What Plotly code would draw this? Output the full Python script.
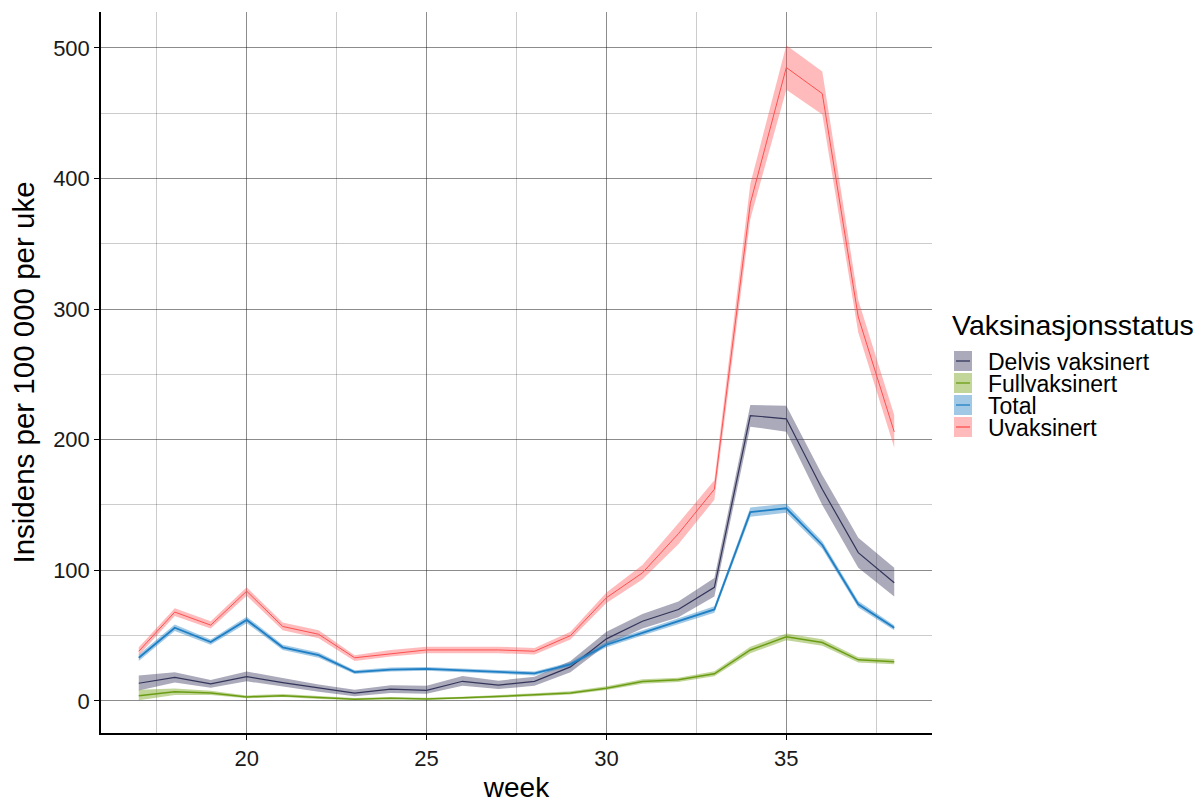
import plotly.graph_objects as go

# Weekly incidence per 100 000 by vaccination status, with confidence bands
weeks = list(range(17, 39))

status_names = ["Delvis vaksinert", "Fullvaksinert", "Total", "Uvaksinert"]

delvis = [13.5, 18, 13, 18.5, 14, 10, 6, 9, 8, 15, 12, 15, 26, 47.5, 61, 70, 87,
          218.5, 216, 162, 113.5, 90.5]
delvis_lo = [8, 14, 10, 15, 11, 7, 3.5, 6, 5.5, 11.5, 9, 11.5, 22, 43, 55.5, 64, 80,
             210, 206, 150, 102, 80]
delvis_hi = [19.5, 22, 16, 22.5, 17.5, 12.5, 8.5, 12, 11.5, 19, 15.5, 18.5, 30.5, 53,
             66.5, 76, 94, 226.5, 226, 173, 125, 102]

full = [4, 7, 6, 3, 4, 2.5, 1.3, 2, 1.5, 2.3, 3.3, 4.6, 6, 9.7, 14.8, 16.1, 20.7,
        39, 49, 44.7, 31.4, 30]
full_lo = [0.5, 4.5, 4.5, 2, 3, 1.5, 0.6, 1.2, 0.8, 1.5, 2.4, 3.5, 4.8, 8.3, 13.2,
           14.5, 18.8, 36.5, 46.5, 42.3, 29.3, 28]
full_hi = [8.5, 9.5, 7.8, 4.2, 5.2, 3.6, 2.2, 3, 2.4, 3.2, 4.3, 5.8, 7.3, 11.2, 16.5,
           17.8, 22.7, 41.5, 51.5, 47.2, 33.5, 32]

total = [33, 56, 45, 62, 41, 35, 22, 24, 24.5, 23.5, 22.5, 21, 28, 43, 52, 61, 70,
         144.5, 147.5, 119.4, 74, 56]
total_lo = [30.5, 53.5, 43, 59.5, 39, 33, 20.5, 22.5, 23, 22, 21, 19.5, 26.5, 41,
            50, 59, 67.5, 141, 144, 116.5, 71.5, 54]
total_hi = [35.5, 58.5, 47, 64.5, 43, 37, 23.5, 25.5, 26, 25, 24, 22.5, 29.5, 45,
            54, 63, 72.5, 148, 151, 122.3, 76.5, 58]

uvaks = [38, 68, 58, 84, 57, 51, 33, 36, 39, 39, 39, 38, 50, 79, 98, 128, 162,
         381, 485, 465, 294, 206]
uvaks_lo = [35, 65, 55.5, 80.5, 54, 48, 30.5, 34, 36.5, 36.5, 36.5, 35.5, 47, 75,
            93, 120, 154, 369, 468, 449, 282, 194]
uvaks_hi = [41, 71, 61, 87, 60, 54, 35, 39, 41.5, 41.5, 41.5, 40.5, 53, 83, 104,
            136, 169, 396, 502, 482, 307, 219]

series = [
    (delvis, delvis_lo, delvis_hi, "#34355A", "rgba(52,53,90,0.42)"),
    (full, full_lo, full_hi, "#6A9D14", "rgba(120,165,30,0.45)"),
    (total, total_lo, total_hi, "#1F7FC4", "rgba(31,127,196,0.42)"),
    (uvaks, uvaks_lo, uvaks_hi, "#FF5050", "rgba(255,77,77,0.38)"),
]
line_widths = [1.2, 1.5, 1.8, 1.0]

fig = go.Figure()

# Confidence ribbons first, then the lines on top
for (vals, lo, hi, lc, fc), name in zip(series, status_names):
    fig.add_trace(go.Scatter(
        x=weeks + weeks[::-1], y=hi + lo[::-1],
        fill="toself", fillcolor=fc, line=dict(width=0, color=fc),
        mode="lines", hoverinfo="skip", showlegend=False, name=name))

for (vals, lo, hi, lc, fc), name, lw in zip(series, status_names, line_widths):
    fig.add_trace(go.Scatter(
        x=weeks, y=vals, mode="lines", line=dict(color=lc, width=lw),
        name=name, showlegend=False))

FONT = "Liberation Sans, Arial, sans-serif"
W, H = 1204, 803
ML, MR, MT, MB = 101, 272, 12, 70
PW, PH = W - ML - MR, H - MT - MB

def px_x(p):
    return (p - ML) / PW

def px_y(p):
    return (H - MB - p) / PH

# Legend drawn as keys + labels to the right of the panel
shapes = []
annotations = [dict(
    x=px_x(950), y=px_y(325), xref="paper", yref="paper",
    text="Vaksinasjonsstatus", showarrow=False, xanchor="left", yanchor="middle",
    font=dict(family=FONT, size=28.5, color="black"))]
key_centers = [361, 383, 405, 427]
for (vals, lo, hi, lc, fc), name, cy in zip(series, status_names, key_centers):
    shapes.append(dict(type="rect", xref="paper", yref="paper",
                       x0=px_x(954), x1=px_x(972), y0=px_y(cy + 10), y1=px_y(cy - 10),
                       fillcolor=fc, line=dict(width=0)))
    shapes.append(dict(type="line", xref="paper", yref="paper",
                       x0=px_x(956), x1=px_x(970), y0=px_y(cy), y1=px_y(cy),
                       line=dict(color=lc, width=1.3)))
    annotations.append(dict(
        x=px_x(986), y=px_y(cy + 1), xref="paper", yref="paper", text=name,
        showarrow=False, xanchor="left", yanchor="middle",
        font=dict(family=FONT, size=23, color="black")))

fig.update_layout(
    width=W, height=H,
    margin=dict(l=ML, r=MR, t=MT, b=MB, pad=0, autoexpand=False),
    paper_bgcolor="white", plot_bgcolor="white",
    font=dict(family=FONT, color="black"),
    shapes=shapes, annotations=annotations,
    showlegend=False,
)

fig.update_xaxes(
    range=[15.95, 39.05], tick0=0, dtick=5, automargin=False,
    showgrid=True, gridcolor="rgba(0,0,0,0.45)", gridwidth=1,
    minor=dict(dtick=2.5, tick0=0, showgrid=True, gridcolor="rgba(0,0,0,0.2)", gridwidth=1),
    zeroline=False, showline=True, linecolor="black", linewidth=1.5,
    ticks="outside", ticklen=5, tickcolor="black", tickwidth=1,
    tickfont=dict(family=FONT, size=22, color="#1a1a1a"),
    title=dict(text="week", font=dict(family=FONT, size=28, color="black"), standoff=14),
)
fig.update_yaxes(
    range=[-24.6, 527.5], tick0=0, dtick=100, automargin=False,
    showgrid=True, gridcolor="rgba(0,0,0,0.45)", gridwidth=1,
    minor=dict(dtick=50, tick0=0, showgrid=True, gridcolor="rgba(0,0,0,0.2)", gridwidth=1),
    zeroline=False, showline=True, linecolor="black", linewidth=1.5,
    ticks="outside", ticklen=5, tickcolor="black", tickwidth=1,
    tickfont=dict(family=FONT, size=22, color="#1a1a1a"),
    title=dict(text="Insidens per 100 000 per uke", font=dict(family=FONT, size=29.5, color="black"),
               standoff=10),
)

fig.write_html("out.html")
